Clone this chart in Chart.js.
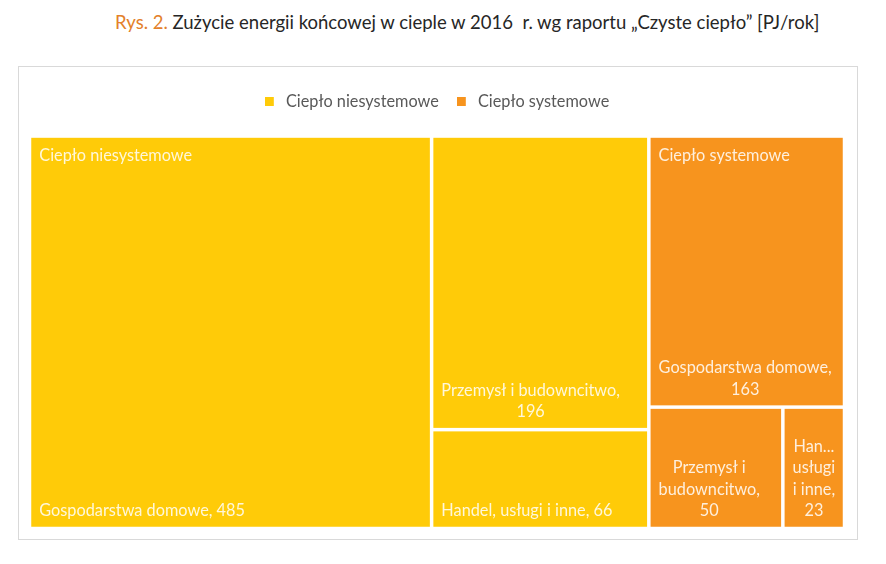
<!DOCTYPE html>
<html>
<head>
<meta charset="utf-8">
<script src="https://cdn.jsdelivr.net/npm/chart.js@4.4.0/dist/chart.umd.min.js"></script>
<style>
    body { margin: 0; background: #fff; width: 886px; height: 564px; position: relative; font-family: Lato, sans-serif; }
    #title { position: absolute; top: 11px; left: 115px; font-size: 18.5px; line-height: 22px; color: #262626; white-space: nowrap; }
    #title span { color: #E3812B; }
    #box { position: absolute; left: 18px; top: 66px; width: 838px; height: 472px; border: 1px solid #d9d9d9; }
</style>
</head>
<body>
<div id="title"><span>Rys. 2.</span> Zużycie energii końcowej w cieple w 2016&nbsp; r. wg raportu „Czyste ciepło” [PJ/rok]</div>
<div id="box"><canvas id="treemap" width="838" height="472"></canvas></div>
<script>
const groups = ['Ciepło niesystemowe', 'Ciepło systemowe'];
const groupColors = ['#FFCB08', '#F7941E'];
const categories = ['Gospodarstwa domowe', 'Przemysł i budowncitwo', 'Handel, usługi i inne'];
const niesystemowe = [485, 196, 66];
const systemowe = [163, 50, 23];

const FONT = '16.3px Lato';
const TEXT = 'rgba(255,255,255,0.85)';

// squarified layout, rect in pixel-proportional units
function squarify(items, rect) {
    const out = [];
    const total = items.reduce((s, d) => s + d.v, 0);
    const k = rect.w * rect.h / total;
    let r = {x: rect.x, y: rect.y, w: rect.w, h: rect.h};
    let rest = items.slice().sort((a, b) => b.v - a.v).map(d => ({d: d, a: d.v * k}));
    let row = [];

    function worst(row, side) {
        const s = row.reduce((t, e) => t + e.a, 0);
        const mx = Math.max(...row.map(e => e.a)), mn = Math.min(...row.map(e => e.a));
        return Math.max(side * side * mx / (s * s), s * s / (side * side * mn));
    }
    function place(row) {
        const s = row.reduce((t, e) => t + e.a, 0);
        if (r.w >= r.h) {
            const cw = s / r.h;
            let y = r.y;
            row.forEach(e => { const hh = e.a / cw; out.push({d: e.d, x: r.x, y: y, w: cw, h: hh}); y += hh; });
            r.x += cw; r.w -= cw;
        } else {
            const rh = s / r.w;
            let x = r.x;
            row.forEach(e => { const ww = e.a / rh; out.push({d: e.d, x: x, y: r.y, w: ww, h: rh}); x += ww; });
            r.y += rh; r.h -= rh;
        }
    }
    while (rest.length) {
        const side = Math.min(r.w, r.h);
        if (!row.length || worst(row.concat([rest[0]]), side) <= worst(row, side)) {
            row.push(rest.shift());
        } else {
            place(row);
            row = [];
        }
    }
    if (row.length) place(row);
    return out;
}

function wrap(ctx, text, maxW) {
    const words = text.split(' ');
    const lines = [];
    let cur = '';
    words.forEach(w => {
        const test = cur ? cur + ' ' + w : w;
        if (ctx.measureText(test).width <= maxW || !cur) {
            cur = test;
        } else {
            lines.push(cur);
            cur = w;
        }
    });
    if (cur) lines.push(cur);
    return lines.map(l => {
        if (ctx.measureText(l).width <= maxW) return l;
        let s = l;
        while (s.length > 1 && ctx.measureText(s + '...').width > maxW) s = s.slice(0, -1);
        return s + '...';
    });
}

// small square on the left of a wider image, so the legend text sits further out
function legendSquare(color) {
    const c = document.createElement('canvas');
    c.width = 13;
    c.height = 9;
    const cx = c.getContext('2d');
    cx.fillStyle = color;
    cx.fillRect(0, 0, 9, 9);
    return c;
}
const legendIcons = groupColors.map(legendSquare);

const treemapPlugin = {
    id: 'treemapRects',
    beforeUpdate(chart) {
        const lg = chart.legend;
        if (lg && !lg._extra) {
            const fit = lg.fit;
            lg.fit = function () { fit.call(this); this.height += 16.5; };
            lg._extra = true;
        }
    },
    afterDatasetsDraw(chart) {
        const ctx = chart.ctx, area = chart.chartArea;
        const sx = chart.scales.x, sy = chart.scales.y;
        const aspect = area.width / area.height;
        const gap = 1.75;

        const tops = chart.data.datasets.map((ds, i) => ({v: ds.values.reduce((a, b) => a + b, 0), i: i}));
        const groupRects = squarify(tops, {x: 0, y: 0, w: aspect, h: 1});

        ctx.save();
        ctx.font = FONT;
        ctx.textBaseline = 'middle';
        groupRects.forEach(g => {
            const ds = chart.data.datasets[g.d.i];
            const leaves = ds.values.map((v, j) => ({v: v, j: j}));
            const rects = squarify(leaves, g);
            rects.forEach(r => {
                const x0 = sx.getPixelForValue(r.x / aspect) + gap;
                const x1 = sx.getPixelForValue((r.x + r.w) / aspect) - gap;
                const y0 = sy.getPixelForValue(r.y) + gap;
                const y1 = sy.getPixelForValue(r.y + r.h) - gap;
                ctx.fillStyle = ds.backgroundColor;
                ctx.fillRect(x0, y0, x1 - x0, y1 - y0);

                ctx.fillStyle = TEXT;
                const lines = wrap(ctx, categories[r.d.j] + ', ' + r.d.v, x1 - x0 - 10);
                const bw = Math.max(...lines.map(l => ctx.measureText(l).width));
                const cx = x0 + 8 + bw / 2;
                ctx.textAlign = 'center';
                lines.forEach((l, n) => {
                    ctx.fillText(l, Math.min(cx, (x0 + x1) / 2 + Math.max(0, bw / 2 - (x1 - x0) / 2 + 8)), y1 - 16 - (lines.length - 1 - n) * 21.5);
                });
            });
            const gx = sx.getPixelForValue(g.x / aspect) + gap;
            const gy = sy.getPixelForValue(g.y) + gap;
            ctx.textAlign = 'left';
            ctx.fillStyle = TEXT;
            ctx.fillText(ds.label, gx + 8, gy + 18);
        });
        ctx.restore();
    }
};

new Chart(document.getElementById('treemap'), {
    type: 'scatter',
    data: {
        datasets: [{
            label: groups[0],
            values: niesystemowe,
            data: [],
            backgroundColor: groupColors[0],
            borderColor: groupColors[0],
            borderWidth: 0
        }, {
            label: groups[1],
            values: systemowe,
            data: [],
            backgroundColor: groupColors[1],
            borderColor: groupColors[1],
            borderWidth: 0
        }]
    },
    options: {
        responsive: false,
        animation: false,
        layout: {
            padding: {left: 10.5, right: 12.5, top: 8.25, bottom: 10.5}
        },
        plugins: {
            legend: {
                position: 'top',
                labels: {
                    usePointStyle: true,
                    pointStyleWidth: 13,
                    boxHeight: 9,
                    padding: 18,
                    color: '#595959',
                    font: {family: 'Lato', size: 16.3},
                    generateLabels(chart) {
                        const items = Chart.defaults.plugins.legend.labels.generateLabels(chart);
                        items.forEach((it, i) => { it.pointStyle = legendIcons[i]; });
                        return items;
                    }
                }
            },
            tooltip: {enabled: false}
        },
        scales: {
            x: {type: 'linear', min: 0, max: 1, display: false},
            y: {type: 'linear', min: 0, max: 1, reverse: true, display: false}
        }
    },
    plugins: [treemapPlugin]
});
</script>
</body>
</html>
